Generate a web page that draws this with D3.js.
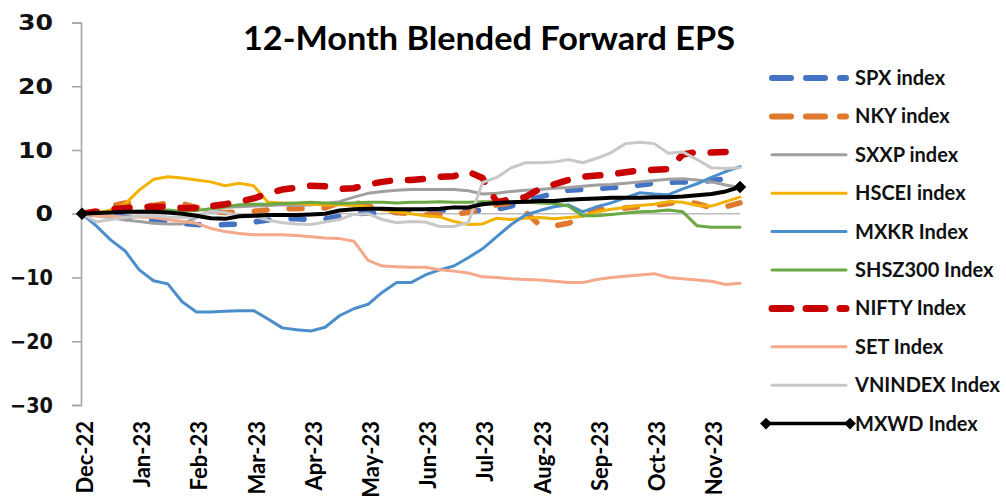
<!DOCTYPE html>
<html>
<head>
<meta charset="utf-8">
<script src="https://cdn.jsdelivr.net/npm/d3@7"></script>
<style>
  html, body { margin: 0; padding: 0; background: #fff; }
  svg { display: block; }
</style>
</head>
<body>
<svg id="chart" width="1006" height="499"></svg>
<script>
// weekly observation dates (Fridays)
const weeks = [
  '2022-12-30','2023-01-06','2023-01-13','2023-01-20','2023-01-27','2023-02-03','2023-02-10','2023-02-17',
  '2023-02-24','2023-03-03','2023-03-10','2023-03-17','2023-03-24','2023-03-31','2023-04-07','2023-04-14',
  '2023-04-21','2023-04-28','2023-05-05','2023-05-12','2023-05-19','2023-05-26','2023-06-02','2023-06-09',
  '2023-06-16','2023-06-23','2023-06-30','2023-07-07','2023-07-14','2023-07-21','2023-07-28','2023-08-04',
  '2023-08-11','2023-08-18','2023-08-25','2023-09-01','2023-09-08','2023-09-15','2023-09-22','2023-09-29',
  '2023-10-06','2023-10-13','2023-10-20','2023-10-27','2023-11-03','2023-11-10','2023-11-17'
];
const yTicks = [-30, -20, -10, 0, 10, 20, 30];

// % change in 12m blended forward EPS
const spx   = [0,0,-0.2,-0.5,-0.8, -1.1,-1.3,-1.5,-1.7,-1.8, -1.7,-1.6,-1.3,-1.0,-0.8, -0.8,-0.9,-0.8,-0.4,0.0, 0.1,0.1,0.2,0.4,0.6, 0.6,0.5,0.5,0.5,0.7, 1.2,2.0,2.6,3.2,3.7, 3.8,3.9,4.1,4.2,4.5, 4.8,4.9,5.0,5.0,5.2, 5.5,5.7];
const nky   = [0,0.5,1.2,1.7,1.5, 1.3,1.7,1.6,1.0,0.4, 0.2,0.3,0.4,0.6,0.8, 0.8,0.9,0.9,1.7,1.8, 1.3,0.6,0.2,0.0,-0.1, -0.1,-0.1,0.2,0.8,1.4, 1.7,0.3,-1.8,-1.9,-1.5, -0.5,0.6,0.8,0.9,1.1, 1.3,1.6,1.9,1.6,0.9, 1.1,1.7];
const sxxp  = [0,-0.3,-0.6,-1.0,-1.2, -1.5,-1.6,-1.6,-0.6,0.6, 1.0,1.1,1.2,1.3,1.4, 1.3,1.4,1.6,1.9,2.6, 3.2,3.5,3.7,3.8,3.8, 3.8,3.8,3.6,3.1,3.2, 3.5,3.7,3.8,4.0,4.1, 4.3,4.5,4.6,4.8,5.0, 5.2,5.4,5.5,5.3,5.0, 4.5,4.1];
const hscei = [0,0.1,0.6,1.5,3.7, 5.4,5.8,5.6,5.3,5.0, 4.4,4.8,4.4,1.8,1.7, 1.6,1.5,1.4,1.4,1.3, 1.1,0.6,0.3,0.0,-0.3, -0.5,-1.2,-1.7,-1.6,-0.7, -0.9,-0.7,-0.6,-0.8,-0.6, -0.4,0.3,0.7,1.0,1.3, 1.5,1.9,1.8,1.3,1.2, 1.9,2.6];
const mxkr  = [0,-1.9,-4.1,-5.8,-8.8, -10.5,-11.0,-13.8,-15.4,-15.4, -15.3,-15.2,-15.2,-16.5,-17.9, -18.2,-18.4,-17.8,-16.0,-14.9, -14.2,-12.3,-10.8,-10.8,-9.6, -8.8,-8.2,-6.9,-5.5,-3.6, -1.7,-0.2,0.5,1.1,1.4, 0.3,1.1,1.7,2.5,3.3, 3.1,3.0,3.9,4.7,5.7, 6.6,7.4];
const shsz  = [0,0.1,0.2,0.3,0.4, 0.5,0.6,0.4,0.5,0.8, 1.1,1.4,1.5,1.5,1.6, 1.7,1.8,1.7,1.6,1.7, 1.8,1.8,1.7,1.8,1.8, 1.9,1.8,1.8,1.9,1.9, 1.9,1.8,1.7,1.6,1.2, -0.3,-0.3,-0.1,0.1,0.3, 0.4,0.6,0.3,-1.9,-2.1, -2.1,-2.1];
const nifty = [0,0.3,0.7,0.9,1.0, 1.1,1.1,0.9,0.9,1.2, 1.5,1.9,2.4,3.2,3.8, 4.1,4.4,4.3,3.9,4.0, 4.6,5.0,5.3,5.3,5.5, 5.8,5.9,6.6,5.6,1.8, 2.3,2.6,3.9,4.6,5.3, 5.8,6.0,6.2,6.5,6.8, 6.9,7.0,9.3,9.7,9.6, 9.7,9.9];
const set   = [0,-0.3,-0.4,-0.5,-0.5, -0.6,-0.9,-1.2,-1.5,-2.3, -2.8,-3.1,-3.3,-3.3,-3.3, -3.4,-3.6,-3.8,-3.9,-4.3, -7.3,-8.2,-8.3,-8.4,-8.4, -8.8,-9.0,-9.3,-9.9,-10.0, -10.2,-10.3,-10.4,-10.6,-10.8, -10.8,-10.3,-10.0,-9.8,-9.6, -9.4,-10.0,-10.2,-10.4,-10.6, -11.1,-10.9];
const vn    = [0,-1.3,-0.9,-0.6,-0.4, -0.3,-0.5,-0.6,-0.5,0.4, 0.2,-0.3,-0.4,-1.0,-1.4, -1.6,-1.7,-1.3,-0.9,-0.1, 0.0,-0.9,-1.4,-1.2,-1.3, -2.0,-2.0,-1.4,4.9,5.7, 7.2,8.0,8.0,8.1,8.5, 8.0,8.7,9.6,11.0,11.2, 11.0,9.5,9.7,8.5,7.2, 7.1,7.2];
const mxwd  = [0,0.1,0.2,0.3,0.3, 0.3,0.2,0.0,-0.3,-0.7, -0.8,-0.4,-0.3,-0.2,-0.2, -0.2,-0.1,0.0,0.5,0.7, 0.8,0.8,0.7,0.7,0.7, 0.8,1.0,1.0,1.5,1.7, 1.8,1.9,2.0,2.0,2.2, 2.3,2.4,2.5,2.5,2.5, 2.6,2.6,2.7,2.9,3.1, 3.5,4.2];

const seriesNames = ['SPX index','NKY index','SXXP index','HSCEI index','MXKR Index',
  'SHSZ300 Index','NIFTY Index','SET Index','VNINDEX Index','MXWD Index'];

// styles per series, same order as the names
const seriesList = [
  {name: seriesNames[0], values: spx,   color: '#4472c4', width: 5.5, dash: '13,22'},
  {name: seriesNames[1], values: nky,   color: '#e0782e', width: 5.5, dash: '13,22'},
  {name: seriesNames[2], values: sxxp,  color: '#a0a0a0', width: 3},
  {name: seriesNames[3], values: hscei, color: '#f2b200', width: 3},
  {name: seriesNames[4], values: mxkr,  color: '#4a8fcc', width: 3},
  {name: seriesNames[5], values: shsz,  color: '#6aa843', width: 3},
  {name: seriesNames[6], values: nifty, color: '#c80000', width: 6.5, dash: '15,18'},
  {name: seriesNames[7], values: set,   color: '#f5a88a', width: 3},
  {name: seriesNames[8], values: vn,    color: '#c8c8c8', width: 3},
  {name: seriesNames[9], values: mxwd,  color: '#000000', width: 4, marker: true}
];

const svg = d3.select('#chart');
const parse = d3.timeParse('%Y-%m-%d');
const fmt = d3.timeFormat('%b-%y');

const x = d3.scalePoint().domain(weeks).range([82, 740]);
const y = d3.scaleLinear().domain([-30, 30]).range([405, 22.5]);

// title
svg.append('text')
  .attr('x', 489).attr('y', 50)
  .attr('text-anchor', 'middle')
  .attr('font-family', 'Lato, sans-serif')
  .attr('font-weight', 'bold')
  .attr('font-size', 32)
  .attr('textLength', 492)
  .attr('lengthAdjust', 'spacingAndGlyphs')
  .attr('fill', '#000')
  .text('12-Month Blended Forward EPS');

// zero line (category axis crossing)
svg.append('line')
  .attr('x1', 81).attr('x2', 740)
  .attr('y1', y(0)).attr('y2', y(0))
  .attr('stroke', '#bdbdbd').attr('stroke-width', 1.5);

// y axis
const yAxis = svg.append('g')
  .attr('transform', 'translate(81,0)')
  .call(d3.axisLeft(y).tickValues(yTicks).tickSize(9).tickPadding(19));
yAxis.selectAll('path, line').attr('stroke', '#a6a6a6').attr('stroke-width', 1.6);
yAxis.selectAll('text')
  .attr('font-family', '"DejaVu Sans", sans-serif')
  .attr('font-weight', 'bold')
  .attr('font-size', 22)
  .attr('textLength', d => String(Math.abs(d)).length * 17.5 + (d < 0 ? 8 : 0))
  .attr('lengthAdjust', 'spacingAndGlyphs')
  .attr('fill', '#111');

// x labels every 4 weeks
const labelWeeks = weeks.filter((d, i) => i % 4 === 0);
svg.append('g').selectAll('text')
  .data(labelWeeks)
  .enter().append('text')
  .attr('transform', d => `translate(${x(d) + 3},421) rotate(-90)`)
  .attr('text-anchor', 'end')
  .attr('dy', '0.36em')
  .attr('font-family', 'Lato, sans-serif')
  .attr('font-weight', 'bold')
  .attr('font-size', 22)
  .attr('fill', '#000')
  .text(d => fmt(parse(d)));

// lines
const line = d3.line()
  .x((d, i) => x(weeks[i]))
  .y(d => y(d));

const plot = svg.append('g');
seriesList.forEach(s => {
  const p = plot.append('path')
    .datum(s.values)
    .attr('fill', 'none')
    .attr('stroke', s.color)
    .attr('stroke-width', s.width)
    .attr('stroke-linejoin', 'round')
    .attr('stroke-linecap', 'round')
    .attr('d', line);
  if (s.dash) p.attr('stroke-dasharray', s.dash);
  if (s.marker) {
    const ends = [0, s.values.length - 1];
    plot.selectAll(null)
      .data(ends)
      .enter().append('path')
      .attr('d', d3.symbol(d3.symbolDiamond2, 100))
      .attr('transform', i => `translate(${x(weeks[i])},${y(s.values[i])})`)
      .attr('fill', s.color);
  }
});

// legend
const legend = svg.append('g');
seriesList.forEach((s, i) => {
  const ly = 78 + i * 38.4;
  const g = legend.append('g').attr('transform', `translate(0,${ly})`);
  if (s.marker) {
    g.append('line').attr('x1', 766).attr('x2', 850).attr('y1', 0).attr('y2', 0)
      .attr('stroke', s.color).attr('stroke-width', 3.5);
    [766, 850].forEach(mx => {
      g.append('path')
        .attr('d', d3.symbol(d3.symbolDiamond2, 90))
        .attr('transform', `translate(${mx},0)`)
        .attr('fill', s.color);
    });
  } else {
    const l = g.append('line').attr('x1', 772).attr('x2', 846).attr('y1', 0).attr('y2', 0)
      .attr('stroke', s.color)
      .attr('stroke-width', s.dash ? (s.name.startsWith('NIFTY') ? 7 : 6) : 3)
      .attr('stroke-linecap', 'round');
    if (s.dash) l.attr('stroke-dasharray', '19,15');
  }
  g.append('text')
    .attr('x', 855).attr('y', 0).attr('dy', '0.35em')
    .attr('font-family', 'Lato, sans-serif')
    .attr('font-weight', 'bold')
    .attr('font-size', 20)
    .attr('fill', '#111')
    .text(s.name);
});
</script>
</body>
</html>
